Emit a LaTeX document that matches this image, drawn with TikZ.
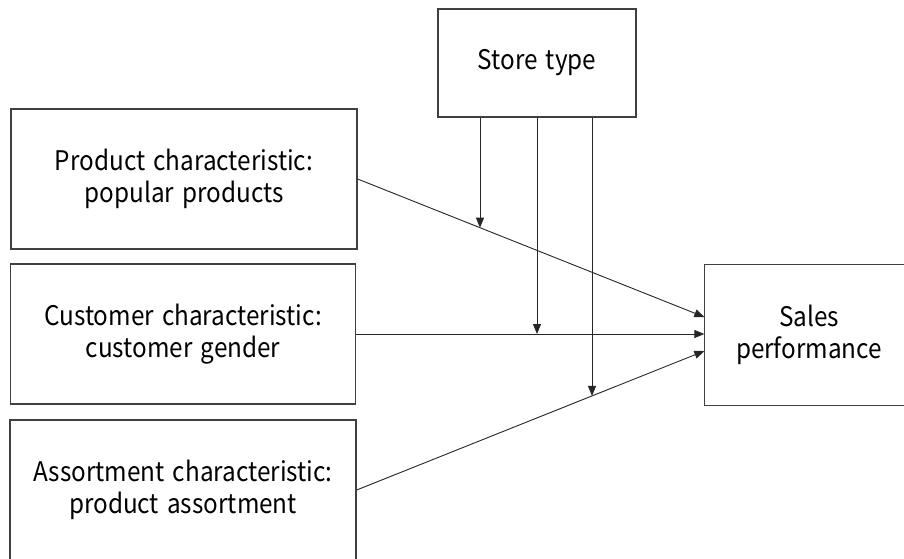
\documentclass[tikz,border=0pt]{standalone}
\usepackage{fontspec}
\setmainfont[FakeStretch=0.9, WordSpace=1.5]{Noto Sans CJK KR}
\usetikzlibrary{arrows.meta,intersections,calc}
\begin{document}
\begin{tikzpicture}[x=1pt,y=-1pt,
  frame/.style={draw=black!75, line width=1.3pt},
  box/.style={frame, inner sep=0pt, align=center,
    font=\fontsize{27}{32}\selectfont},
  conn/.style={draw=black!85, line width=0.9pt, -{Triangle[length=10pt,width=8pt]}}]
\useasboundingbox (0,0) rectangle (904,558);
\clip (0,0) rectangle (904,558);
\node[box, minimum width=198pt, minimum height=108pt] (store) at (537,63) {Store type};
\node[box, minimum width=346pt, minimum height=140pt] (prod) at (184,179) {Product characteristic:\\popular products};
\node[box, minimum width=345pt, minimum height=140pt] (cust) at (183,334) {Customer characteristic:\\customer gender};
\node[box, minimum width=346pt, minimum height=140pt] (asso) at (183,490) {Assortment characteristic:\\product assortment};
\node[box, draw=none, minimum width=208pt, minimum height=140pt] (sales) at (809,335) {Sales\\performance};
\draw[frame] (sales.south west) -- (sales.north west) -- ++(260,0);
\draw[frame] (sales.south west) -- ++(260,0);
\coordinate (t1) at ($(sales.west)+(0,-18)$);
\coordinate (t2) at ($(sales.west)+(0,-1)$);
\coordinate (t3) at ($(sales.west)+(0,16)$);
\draw[conn, name path=p1] (prod.east) -- (t1);
\draw[conn, name path=p2] (cust.east) -- (t2);
\draw[conn, name path=p3] (asso.east) -- (t3);
\coordinate (x1) at (480,0);
\coordinate (x2) at (537,0);
\coordinate (x3) at (592,0);
\path[name path=v1] (store.south -| x1) -- ++(0,400);
\path[name path=v2] (store.south -| x2) -- ++(0,400);
\path[name path=v3] (store.south -| x3) -- ++(0,400);
\path[name intersections={of=v1 and p1, by=m1}];
\path[name intersections={of=v2 and p2, by=m2}];
\path[name intersections={of=v3 and p3, by=m3}];
\draw[conn] (store.south -| x1) -- (m1);
\draw[conn] (store.south -| x2) -- (m2);
\draw[conn] (store.south -| x3) -- (m3);
\end{tikzpicture}
\end{document}
